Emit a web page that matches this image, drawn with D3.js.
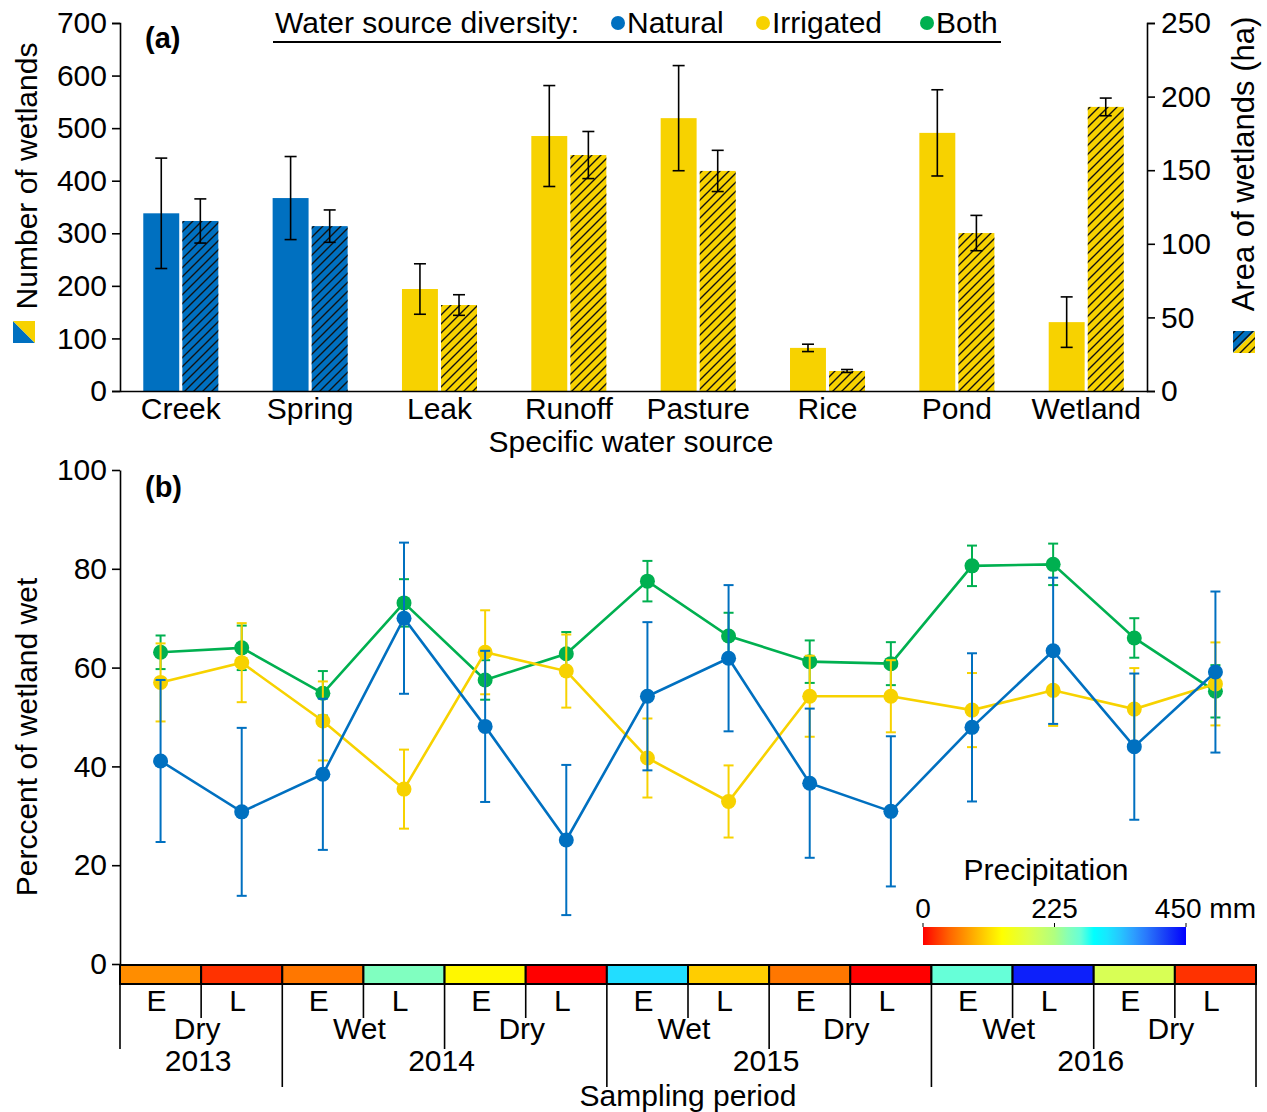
<!DOCTYPE html>
<html>
<head>
<meta charset="utf-8">
<script src="https://cdn.jsdelivr.net/npm/d3@7"></script>
<style>
  body { margin: 0; background: #fff; }
  text { font-family: "Liberation Sans", Arial, sans-serif; fill: #000; }
</style>
</head>
<body>
<svg id="chart"></svg>
<script>
// ---- data, panel (a) ----
var categories = ["Creek", "Spring", "Leak", "Runoff", "Pasture", "Rice", "Pond", "Wetland"];
var sourceType = ["Natural", "Natural", "Irrigated", "Irrigated", "Irrigated", "Irrigated", "Irrigated", "Irrigated"];
var countMean = [338, 367, 194, 485, 519, 82, 491, 131];
var countErr = [105, 79, 48, 96, 100, 7, 82, 48];
var areaMean = [115.5, 112, 58.4, 160.3, 149.5, 13.6, 107.3, 193];
var areaErr = [15, 11, 7, 16, 14, 1, 12, 6];

// ---- data, panel (b) ----
var periods = ["E", "L", "E", "L", "E", "L", "E", "L", "E", "L", "E", "L", "E", "L"];
var seasons = ["Dry", "Wet", "Dry", "Wet", "Dry", "Wet", "Dry"];
var years = ["2013", "2014", "2015", "2016"];
var yearSpans = [2, 4, 4, 4];
var precipitation = [68, 22, 54, 252, 130, 0, 324, 104, 54, 0, 270, 432, 189, 22];
var natural = [41.1, 30.8, 38.4, 70.0, 48.1, 25.1, 54.2, 61.9, 36.6, 30.9, 47.9, 63.4, 44.0, 59.1];
var naturalErr = [16.4, 17, 15.3, 15.3, 15.3, 15.2, 15, 14.8, 15.1, 15.2, 15, 14.8, 14.8, 16.3];
var irrigated = [57.0, 61.0, 49.2, 35.4, 63.1, 59.3, 41.7, 32.9, 54.2, 54.2, 51.4, 55.4, 51.6, 56.7];
var irrigatedErr = [7.9, 8, 8, 8, 8.5, 7.4, 8, 7.3, 8.2, 7.3, 7.5, 7.2, 8.3, 8.4];
var both = [63.1, 64.0, 54.8, 73.1, 57.5, 62.8, 77.5, 66.4, 61.2, 60.8, 80.6, 80.9, 66.0, 55.2];
var bothErr = [3.4, 4.5, 4.5, 4.8, 4, 4.4, 4.1, 4.7, 4.3, 4.35, 4.1, 4.2, 4.0, 5.3];

var colors = {Natural: "#0070c0", Irrigated: "#f7d200", Both: "#00b050"};
var FS = 30;

var W = 1267, H = 1112;
var svg = d3.select("#chart").attr("width", W).attr("height", H);

// hatch pattern
var defs = svg.append("defs");
defs.append("pattern")
    .attr("id", "hatch")
    .attr("patternUnits", "userSpaceOnUse")
    .attr("width", 9).attr("height", 9)
  .append("path")
    .attr("d", "M0,9 L9,0 M-2,2 L2,-2 M7,11 L11,7")
    .attr("stroke", "#111").attr("stroke-width", 1.4);

// ================= panel (a) =================
var ax = {left: 120, right: 1147, top: 23, bottom: 391};

var x0 = d3.scaleBand().domain(categories)
    .range([ax.left, ax.right]).paddingInner(0.42).paddingOuter(0.18);
var x1 = d3.scaleBand().domain(["count", "area"])
    .range([0, x0.bandwidth()]).paddingInner(0.08);
var yCount = d3.scaleLinear().domain([0, 700]).range([ax.bottom, ax.top]);
var yArea = d3.scaleLinear().domain([0, 250]).range([ax.bottom, ax.top]);

var barData = categories.map(function(c, i) {
  return {cat: c, type: sourceType[i], count: countMean[i], countErr: countErr[i],
          area: areaMean[i], areaErr: areaErr[i]};
});

var gA = svg.append("g");

// count bars (solid)
gA.selectAll(".cbar").data(barData).enter().append("rect")
    .attr("x", function(d) { return x0(d.cat) + x1("count"); })
    .attr("width", x1.bandwidth())
    .attr("y", function(d) { return yCount(d.count); })
    .attr("height", function(d) { return ax.bottom - yCount(d.count); })
    .attr("fill", function(d) { return colors[d.type]; });

// area bars (hatched)
gA.selectAll(".abar").data(barData).enter().append("rect")
    .attr("x", function(d) { return x0(d.cat) + x1("area"); })
    .attr("width", x1.bandwidth())
    .attr("y", function(d) { return yArea(d.area); })
    .attr("height", function(d) { return ax.bottom - yArea(d.area); })
    .attr("fill", function(d) { return colors[d.type]; });
gA.selectAll(".ahatch").data(barData).enter().append("rect")
    .attr("x", function(d) { return x0(d.cat) + x1("area"); })
    .attr("width", x1.bandwidth())
    .attr("y", function(d) { return yArea(d.area); })
    .attr("height", function(d) { return ax.bottom - yArea(d.area); })
    .attr("fill", "url(#hatch)");

function errBar(g, cx, y1, y2, cap, color, sw) {
  g.append("line").attr("x1", cx).attr("x2", cx).attr("y1", y1).attr("y2", y2)
      .attr("stroke", color).attr("stroke-width", sw);
  [y1, y2].forEach(function(yy) {
    g.append("line").attr("x1", cx - cap / 2).attr("x2", cx + cap / 2)
        .attr("y1", yy).attr("y2", yy)
        .attr("stroke", color).attr("stroke-width", sw);
  });
}

barData.forEach(function(d) {
  var cx = x0(d.cat) + x1("count") + x1.bandwidth() / 2;
  errBar(gA, cx, yCount(d.count + d.countErr), yCount(d.count - d.countErr), 12, "#000", 1.6);
  cx = x0(d.cat) + x1("area") + x1.bandwidth() / 2;
  errBar(gA, cx, yArea(d.area + d.areaErr), yArea(d.area - d.areaErr), 12, "#000", 1.6);
});

function styleAxis(g) {
  g.selectAll("path, line").attr("stroke", "#000").attr("stroke-width", 1.6);
  g.selectAll("text").attr("font-size", FS)
      .style("font-family", '"Liberation Sans", Arial, sans-serif').attr("fill", "#000");
}

svg.append("g").attr("transform", "translate(" + ax.left + ",0)")
    .call(d3.axisLeft(yCount).ticks(7).tickSize(8).tickSizeOuter(8).tickPadding(5))
    .call(styleAxis);
svg.append("g").attr("transform", "translate(" + ax.right + ",0)")
    .call(d3.axisRight(yArea).ticks(5).tickSize(8).tickSizeOuter(8).tickPadding(6))
    .call(styleAxis);
svg.append("g").attr("transform", "translate(0," + ax.bottom + ")")
    .call(d3.axisBottom(x0).tickSize(0).tickPadding(7))
    .call(styleAxis);

svg.append("text").attr("x", 631).attr("y", 452).attr("text-anchor", "middle")
    .attr("font-size", FS).text("Specific water source");
svg.append("text").attr("x", 145).attr("y", 48).attr("font-size", 29)
    .attr("font-weight", "bold").text("(a)");

// left axis title + icon
svg.append("text").attr("transform", "translate(37,176) rotate(-90)")
    .attr("text-anchor", "middle").attr("font-size", FS).text("Number of wetlands");
svg.append("path").attr("d", "M13,321 L35,343 L13,343 Z").attr("fill", colors.Natural);
svg.append("path").attr("d", "M13,321 L35,321 L35,343 Z").attr("fill", colors.Irrigated);

// right axis title + icon
svg.append("text").attr("transform", "translate(1254,164) rotate(-90)")
    .attr("text-anchor", "middle").attr("font-size", 31).text("Area of wetlands (ha)");
svg.append("path").attr("d", "M1233,331 L1255,331 L1233,353 Z").attr("fill", colors.Natural);
svg.append("path").attr("d", "M1255,331 L1255,353 L1233,353 Z").attr("fill", colors.Irrigated);
svg.append("rect").attr("x", 1233).attr("y", 331).attr("width", 22).attr("height", 22)
    .attr("fill", "url(#hatch)");

// legend
var legend = svg.append("g");
legend.append("text").attr("x", 275).attr("y", 33).attr("font-size", FS)
    .text("Water source diversity:");
[["Natural", 618], ["Irrigated", 763], ["Both", 927]].forEach(function(l) {
  legend.append("circle").attr("cx", l[1]).attr("cy", 23).attr("r", 7)
      .attr("fill", colors[l[0]]);
  legend.append("text").attr("x", l[1] + 9).attr("y", 33).attr("font-size", FS).text(l[0]);
});
legend.append("line").attr("x1", 273).attr("x2", 1001).attr("y1", 42).attr("y2", 42)
    .attr("stroke", "#000").attr("stroke-width", 2);

// ================= panel (b) =================
var bx = {left: 120, right: 1256, top: 470, bottom: 964};
var xP = d3.scaleBand().domain(d3.range(periods.length)).range([bx.left, bx.right]);
var yP = d3.scaleLinear().domain([0, 100]).range([bx.bottom, bx.top]);
var step = xP.step();
var cxP = function(i) { return xP(i) + step / 2; };

svg.append("g").attr("transform", "translate(" + bx.left + ",0)")
    .call(d3.axisLeft(yP).tickValues([0, 20, 40, 60, 80, 100]).tickSize(8).tickSizeOuter(0).tickPadding(5))
    .call(styleAxis);

svg.append("text").attr("transform", "translate(37,737) rotate(-90)")
    .attr("text-anchor", "middle").attr("font-size", FS).text("Perccent of wetland wet");
svg.append("text").attr("x", 145).attr("y", 497).attr("font-size", 29)
    .attr("font-weight", "bold").text("(b)");

var series = [
  {name: "Both", vals: both, errs: bothErr},
  {name: "Irrigated", vals: irrigated, errs: irrigatedErr},
  {name: "Natural", vals: natural, errs: naturalErr}
];

var line = d3.line().x(function(d, i) { return cxP(i); }).y(function(d) { return yP(d); });

series.forEach(function(s) {
  var g = svg.append("g");
  s.vals.forEach(function(v, i) {
    errBar(g, cxP(i), yP(v + s.errs[i]), yP(v - s.errs[i]), 10, colors[s.name], 2);
  });
  g.append("path").datum(s.vals).attr("d", line)
      .attr("fill", "none").attr("stroke", colors[s.name]).attr("stroke-width", 2.6);
  g.selectAll("circle").data(s.vals).enter().append("circle")
      .attr("cx", function(d, i) { return cxP(i); })
      .attr("cy", function(d) { return yP(d); })
      .attr("r", 7.5).attr("fill", colors[s.name]);
});

// precipitation colour scale
var precipMax = 450;
var pStops = [0, 0.05, 0.12, 0.15, 0.23, 0.30, 0.42, 0.50, 0.56, 0.60, 0.65, 0.72, 0.82, 0.92, 1];
var pColors = ["#ff0000", "#ff3300", "#ff7700", "#ff8c00", "#ffcc00", "#ffff00", "#d8ff55",
               "#b0ff80", "#80ffc0", "#66ffd8", "#00ffff", "#22ddff", "#3090ff", "#1a40f5", "#0000ff"];
var pColor = d3.scaleLinear()
    .domain(pStops.map(function(t) { return t * precipMax; }))
    .range(pColors).interpolate(d3.interpolateRgb);

// precipitation strip
var stripTop = 965, stripBot = 984;
svg.append("g").selectAll("rect").data(precipitation).enter().append("rect")
    .attr("x", function(d, i) { return xP(i); })
    .attr("y", stripTop).attr("width", step).attr("height", stripBot - stripTop)
    .attr("fill", function(d) { return pColor(d); })
    .attr("stroke", "#000").attr("stroke-width", 2);

// separators below strip
var yearBounds = [0];
yearSpans.forEach(function(n) { yearBounds.push(yearBounds[yearBounds.length - 1] + n); });
for (var k = 0; k <= periods.length; k++) {
  var yEnd = 1018;
  if (k % 2 === 0) yEnd = 1049;
  if (k > 0 && yearBounds.indexOf(k) >= 0) yEnd = 1087;
  svg.append("line").attr("x1", bx.left + k * step).attr("x2", bx.left + k * step)
      .attr("y1", stripBot).attr("y2", yEnd)
      .attr("stroke", "#000").attr("stroke-width", 1.6);
}

periods.forEach(function(p, i) {
  svg.append("text").attr("x", cxP(i) - 4).attr("y", 1011).attr("text-anchor", "middle")
      .attr("font-size", FS).text(p);
});
seasons.forEach(function(s, j) {
  svg.append("text").attr("x", bx.left + (2 * j + 1) * step - 4).attr("y", 1039)
      .attr("text-anchor", "middle").attr("font-size", FS).text(s);
});
years.forEach(function(y, j) {
  var mid = (yearBounds[j] + yearBounds[j + 1]) / 2;
  svg.append("text").attr("x", bx.left + mid * step - 3).attr("y", 1071)
      .attr("text-anchor", "middle").attr("font-size", FS).text(y);
});
svg.append("text").attr("x", 688).attr("y", 1106).attr("text-anchor", "middle")
    .attr("font-size", FS).text("Sampling period");

// precipitation legend
var lg = {x0: 923, x1: 1186, y: 927, h: 18};
var grad = defs.append("linearGradient").attr("id", "pgrad");
d3.range(0, 1.0001, 0.05).forEach(function(t) {
  grad.append("stop").attr("offset", t).attr("stop-color", pColor(t * precipMax));
});
var lx = d3.scaleLinear().domain([0, precipMax]).range([lg.x0, lg.x1]);
svg.append("rect").attr("x", lg.x0).attr("y", lg.y).attr("width", lg.x1 - lg.x0)
    .attr("height", lg.h).attr("fill", "url(#pgrad)");
[0, 225, 450].forEach(function(v) {
  svg.append("line").attr("x1", lx(v)).attr("x2", lx(v)).attr("y1", lg.y - 4).attr("y2", lg.y)
      .attr("stroke", "#000").attr("stroke-width", 1);
});
svg.append("text").attr("x", lx(0)).attr("y", 918).attr("text-anchor", "middle")
    .attr("font-size", 28).text("0");
svg.append("text").attr("x", lx(225)).attr("y", 918).attr("text-anchor", "middle")
    .attr("font-size", 28).text("225");
svg.append("text").attr("x", 1256).attr("y", 918).attr("text-anchor", "end")
    .attr("font-size", 28).text("450 mm");
svg.append("text").attr("x", 1046).attr("y", 880).attr("text-anchor", "middle")
    .attr("font-size", FS).text("Precipitation");
</script>
</body>
</html>
